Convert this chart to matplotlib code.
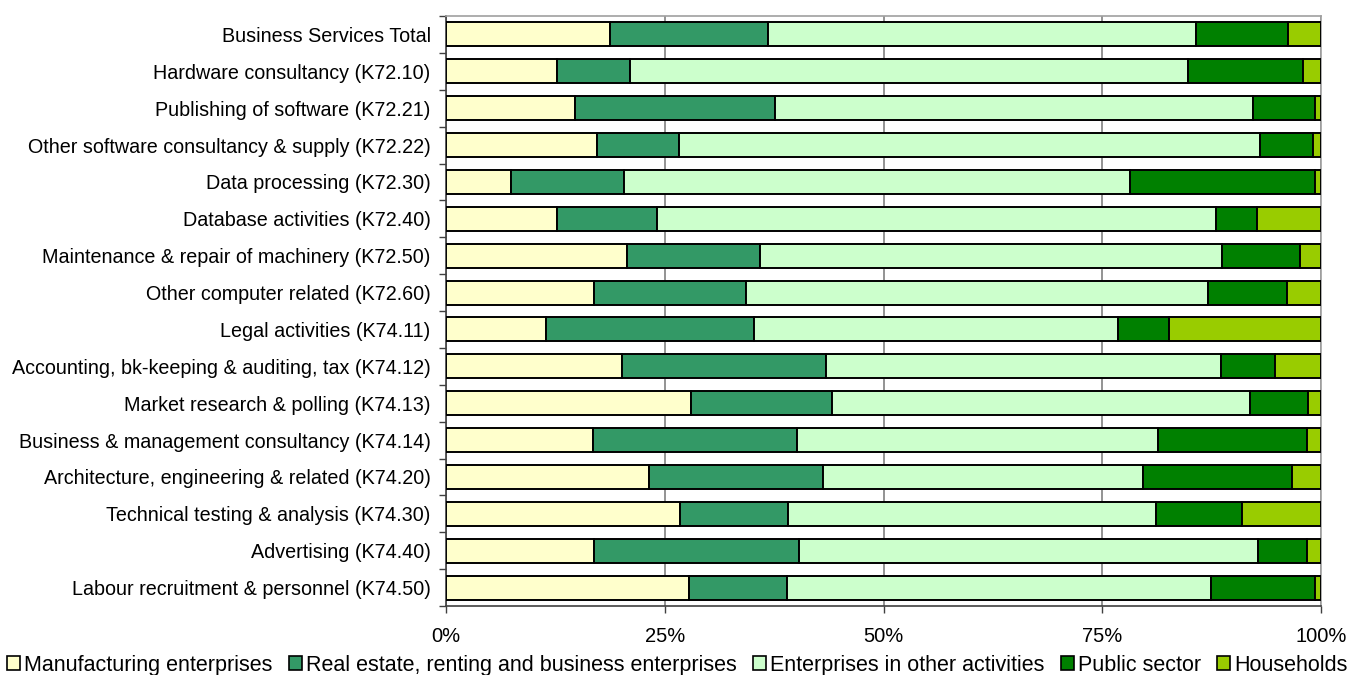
import matplotlib.pyplot as plt
import numpy as np
from matplotlib.patches import Patch

plt.rcParams["font.family"] = ["Liberation Sans", "DejaVu Sans"]

# ── Data: share of sales by customer group (%) ───────────────────────────────
CATEGORIES = [
    "Business Services Total",
    "Hardware consultancy (K72.10)",
    "Publishing of software (K72.21)",
    "Other software consultancy & supply (K72.22)",
    "Data processing (K72.30)",
    "Database activities (K72.40)",
    "Maintenance & repair of machinery (K72.50)",
    "Other computer related (K72.60)",
    "Legal activities (K74.11)",
    "Accounting, bk-keeping & auditing, tax (K74.12)",
    "Market research & polling (K74.13)",
    "Business & management consultancy (K74.14)",
    "Architecture, engineering & related (K74.20)",
    "Technical testing & analysis (K74.30)",
    "Advertising (K74.40)",
    "Labour recruitment & personnel (K74.50)",
]

MANUFACTURING = [18.7, 12.7, 14.7, 17.3, 7.4, 12.7, 20.7, 16.9,
                 11.4, 20.1, 28.0, 16.8, 23.2, 26.7, 16.9, 27.8]
REAL_ESTATE   = [18.1, 8.3, 22.9, 9.3, 12.9, 11.4, 15.2, 17.4,
                 23.8, 23.3, 16.1, 23.3, 19.9, 12.4, 23.4, 11.2]
OTHER_ACT     = [48.9, 63.8, 54.6, 66.4, 57.9, 63.9, 52.8, 52.8,
                 41.6, 45.2, 47.8, 41.3, 36.6, 42.0, 52.5, 48.4]
PUBLIC        = [10.5, 13.1, 7.1, 6.1, 21.1, 4.7, 8.9, 9.0,
                 5.8, 6.1, 6.6, 17.0, 17.0, 9.9, 5.6, 11.9]
HOUSEHOLDS    = [3.8, 2.1, 0.7, 0.9, 0.7, 7.3, 2.4, 3.9,
                 17.4, 5.3, 1.5, 1.6, 3.3, 9.0, 1.6, 0.7]

SERIES = [
    ("Manufacturing enterprises", MANUFACTURING, "#FFFFCC"),
    ("Real estate, renting and business enterprises", REAL_ESTATE, "#339966"),
    ("Enterprises in other activities", OTHER_ACT, "#CCFFCC"),
    ("Public sector", PUBLIC, "#008000"),
    ("Households", HOUSEHOLDS, "#99CC00"),
]


fig = plt.figure(figsize=(13.55, 6.75), dpi=100)
ax = fig.add_axes([446 / 1355, 69 / 675, 875 / 1355, 590 / 675])

y = np.arange(len(CATEGORIES))
left = np.zeros(len(CATEGORIES))
handles = []
for label, vals, color in SERIES:
    vals = np.asarray(vals, dtype=float)
    ax.barh(y, vals, left=left, height=0.65, color=color,
            edgecolor="black", linewidth=1.4, zorder=3)
    left += vals
    handles.append(Patch(facecolor=color, edgecolor="black", linewidth=1.2,
                         label=label))

ax.set_xlim(0, 100)
ax.set_ylim(len(CATEGORIES) - 0.5, -0.5)

# x axis: percent ticks with downward tick marks
ax.set_xticks([0, 25, 50, 75, 100])
ax.set_xticklabels(["0%", "25%", "50%", "75%", "100%"])
ax.tick_params(axis="x", direction="out", length=5, width=1, color="#404040",
               pad=10, labelsize=14.5)

# y axis: category labels, tick marks sit between categories
ax.set_yticks(y)
ax.set_yticklabels(CATEGORIES)
ax.tick_params(axis="y", which="major", length=0, pad=11, labelsize=14.2)
ax.set_yticks(np.arange(-0.5, len(CATEGORIES), 1.0), minor=True)
ax.tick_params(axis="y", which="minor", direction="out", length=5, width=1,
               color="#404040")

ax.xaxis.grid(True, color="#808080", linewidth=1.2, zorder=0)
ax.set_axisbelow(True)

for side in ("top", "right"):
    ax.spines[side].set_color("#A0A0A0")
    ax.spines[side].set_linewidth(1.2)
for side in ("left", "bottom"):
    ax.spines[side].set_color("#404040")
    ax.spines[side].set_linewidth(1.2)

fig.legend(handles=handles, loc="lower center", bbox_to_anchor=(0.5, -0.02),
           ncol=5, frameon=False, fontsize=15.5, handlelength=0.6,
           handleheight=0.6, handletextpad=0.2, columnspacing=0.75,
           borderaxespad=0.2)

fig.savefig("out.png", dpi=100, facecolor="white")
